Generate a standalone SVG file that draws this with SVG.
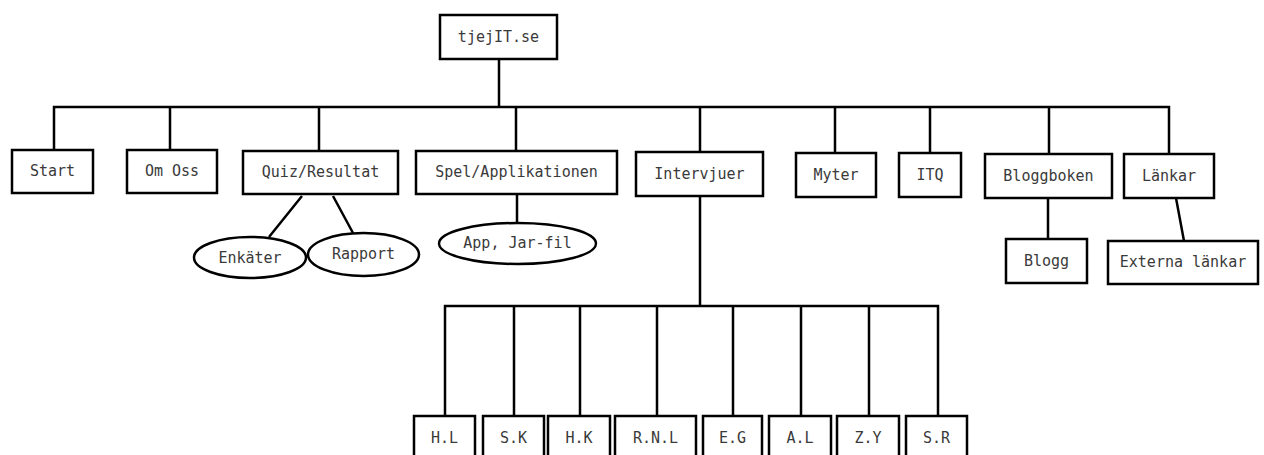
<svg xmlns="http://www.w3.org/2000/svg" width="1264" height="455" viewBox="0 0 1264 455">
<style>
.box{fill:#fff;stroke:#000;stroke-width:2.5}
.ell{fill:#fff;stroke:#000;stroke-width:2.5}
.ln{fill:none;stroke:#000;stroke-width:2.5}
text{font-family:"DejaVu Sans Mono","Liberation Mono",monospace;font-size:15px;fill:#3a3a3a;text-anchor:middle}
</style>
<rect width="1264" height="455" fill="#fff"/>
<g id="connectors">
<path class="ln" d="M499,59V107M54,150V107H1169V154M170,107V150M319,107V151M516,107V151M700,107V152M835,107V153M930,107V153M1049,107V154"/>
<path class="ln" d="M302,196L269,237M333,196L353,233M517,194V223M1048,198V239M1176,198L1184,241"/>
<path class="ln" d="M700,196V306M445,416V306H938V416M514,306V416M580,306V416M657,306V416M733,306V416M801,306V416M869,306V416"/>
</g>
<g id="n-root"><rect class="box" x="440" y="15" width="117" height="44"/><text x="498.5" y="42">tjejIT.se</text></g>
<g id="n-start"><rect class="box" x="12" y="150" width="81" height="43"/><text x="52.5" y="176">Start</text></g>
<g id="n-omoss"><rect class="box" x="127" y="150" width="90" height="43"/><text x="172" y="176">Om Oss</text></g>
<g id="n-quiz"><rect class="box" x="243" y="151" width="155" height="43"/><text x="320.5" y="177">Quiz/Resultat</text></g>
<g id="n-spel"><rect class="box" x="416" y="151" width="201" height="43"/><text x="516.5" y="177">Spel/Applikationen</text></g>
<g id="n-intervjuer"><rect class="box" x="636" y="152" width="127" height="44"/><text x="699.5" y="179">Intervjuer</text></g>
<g id="n-myter"><rect class="box" x="796" y="153" width="80" height="44"/><text x="836" y="180">Myter</text></g>
<g id="n-itq"><rect class="box" x="899" y="153" width="62" height="44"/><text x="930" y="180">ITQ</text></g>
<g id="n-bloggboken"><rect class="box" x="985" y="154" width="127" height="44"/><text x="1048.5" y="181">Bloggboken</text></g>
<g id="n-lankar"><rect class="box" x="1124" y="154" width="90" height="44"/><text x="1169" y="181">Länkar</text></g>
<g id="n-enkater"><ellipse class="ell" cx="250" cy="257.5" rx="56" ry="20.5"/><text x="250" y="263">Enkäter</text></g>
<g id="n-rapport"><ellipse class="ell" cx="363.5" cy="254.5" rx="55.5" ry="21.5"/><text x="363.5" y="259">Rapport</text></g>
<g id="n-app"><ellipse class="ell" cx="517.5" cy="243.5" rx="78.5" ry="20.5"/><text x="517.5" y="248">App, Jar-fil</text></g>
<g id="n-blogg"><rect class="box" x="1006" y="239" width="81" height="44"/><text x="1046.5" y="266">Blogg</text></g>
<g id="n-externa"><rect class="box" x="1108" y="241" width="150" height="43"/><text x="1183" y="267">Externa länkar</text></g>
<g id="n-hl"><rect class="box" x="414" y="416" width="61" height="50"/><text x="444.5" y="443">H.L</text></g>
<g id="n-sk"><rect class="box" x="483" y="416" width="61" height="50"/><text x="513.5" y="443">S.K</text></g>
<g id="n-hk"><rect class="box" x="548" y="416" width="62" height="50"/><text x="579" y="443">H.K</text></g>
<g id="n-rnl"><rect class="box" x="615" y="416" width="81" height="50"/><text x="655.5" y="443">R.N.L</text></g>
<g id="n-eg"><rect class="box" x="703" y="416" width="59" height="50"/><text x="732.5" y="443">E.G</text></g>
<g id="n-al"><rect class="box" x="769" y="416" width="62" height="50"/><text x="800" y="443">A.L</text></g>
<g id="n-zy"><rect class="box" x="837" y="416" width="62" height="50"/><text x="868" y="443">Z.Y</text></g>
<g id="n-sr"><rect class="box" x="906" y="416" width="61" height="50"/><text x="936.5" y="443">S.R</text></g>
</svg>
